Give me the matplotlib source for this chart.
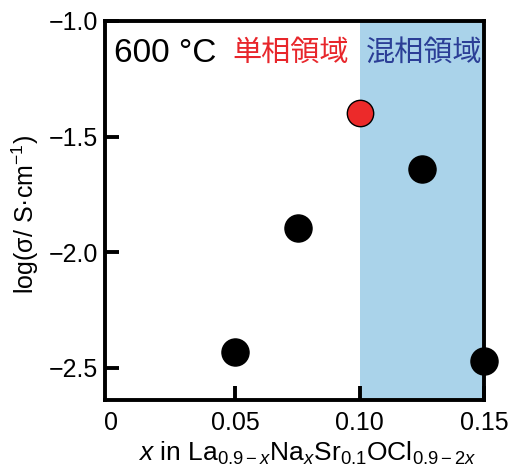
import matplotlib
matplotlib.use("Agg")
import matplotlib.pyplot as plt

plt.rcParams['font.family'] = ['Liberation Sans', 'Noto Sans CJK JP', 'DejaVu Sans']
plt.rcParams['mathtext.fontset'] = 'custom'
plt.rcParams['mathtext.rm'] = 'Liberation Sans'
plt.rcParams['mathtext.it'] = 'Liberation Sans:italic'
plt.rcParams['mathtext.sf'] = 'Liberation Sans'
plt.rcParams['axes.unicode_minus'] = True

# composition x and log conductivity at 600 °C
x_single = [0.10]
log_sigma_single = [-1.40]
x_others = [0.05, 0.075, 0.125, 0.15]
log_sigma_others = [-2.43, -1.895, -1.64, -2.47]

x_ticks = [0, 0.05, 0.10, 0.15]
x_tick_labels = ["0", "0.05", "0.10", "0.15"]
y_ticks = [-1.0, -1.5, -2.0, -2.5]
mixed_region = (0.10, 0.15)

fig = plt.figure(figsize=(5.1, 4.7), dpi=100)
ax = fig.add_axes([105 / 510, 1 - 400 / 470, (484 - 105) / 510, (400 - 21) / 470])

ax.axvspan(mixed_region[0], mixed_region[1], color='#aad3ea', lw=0, zorder=0)

ax.plot(x_others, log_sigma_others, 'o', ms=19.5, color='black', mec='black',
        clip_on=False, zorder=3)
ax.plot(x_single, log_sigma_single, 'o', ms=19, color='#ec2a2a', mec='black',
        mew=1.0, clip_on=False, zorder=3)

ax.set_xlim(-0.0025, 0.149)
ax.set_ylim(-2.639, -1.0)

ax.set_xticks(x_ticks)
ax.set_xticklabels(x_tick_labels)
ax.set_yticks(y_ticks)
ax.set_yticklabels([f"{v:.1f}".replace("-", "\u2212") for v in y_ticks])

for s in ax.spines.values():
    s.set_linewidth(2.8)
ax.tick_params(direction='in', length=10, width=2.8, labelsize=18, pad=5)
ax.tick_params(axis='x', pad=8)
# the origin label sits on the left spine; no separate tick mark there
ax.xaxis.get_major_ticks()[0].tick1line.set_visible(False)

ax.set_ylabel("log(σ/ S·cm$^{-1}$)", fontsize=18)
ax.yaxis.set_label_coords(-0.168, 0.49)
ax.set_xlabel("$x$ in La$_{0.9\u2212x}$Na$_x$Sr$_{0.1}$OCl$_{0.9\u22122x}$", fontsize=19)
ax.xaxis.set_label_coords(0.535, -0.105)

ax.text(0.025, 0.915, "600 °C", transform=ax.transAxes, fontsize=24,
        ha='left', va='center', color='black', family=['Liberation Sans'])
ax.text(0.337, 0.915, "単相領域", transform=ax.transAxes, fontsize=21,
        ha='left', va='center', color='#e8262b', family=['Noto Sans CJK JP'])
ax.text(0.995, 0.915, "混相領域", transform=ax.transAxes, fontsize=21,
        ha='right', va='center', color='#2b3e96', family=['Noto Sans CJK JP'])

fig.savefig("out.png", dpi=100)
